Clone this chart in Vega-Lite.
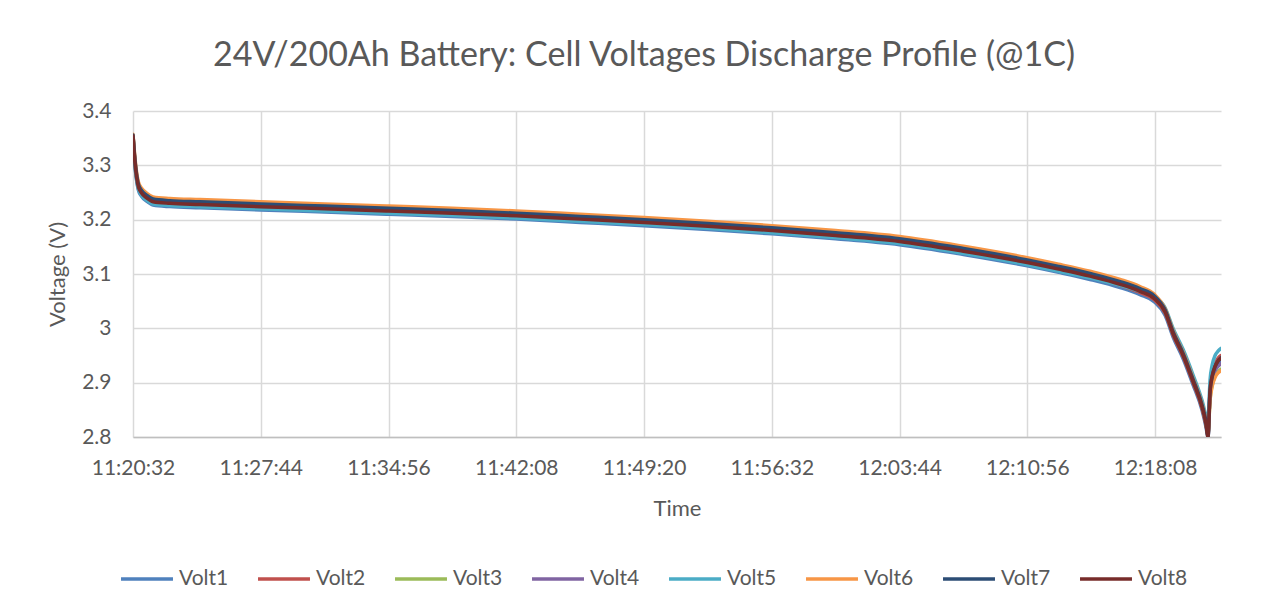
{
  "$schema": "https://vega.github.io/schema/vega-lite/v6.json",
  "width": 1088,
  "height": 326,
  "autosize": "none",
  "padding": {"left": 133, "top": 111, "right": 60, "bottom": 170},
  "background": "white",
  "title": {
    "text": "24V/200Ah Battery: Cell Voltages Discharge Profile (@1C)",
    "font": "Lato",
    "fontSize": 34,
    "fontWeight": "normal",
    "color": "#595959",
    "anchor": "middle",
    "dx": -33,
    "offset": 27
  },
  "data": {
    "values": [
      {"time": "2020-01-01T11:20:32", "Volt1": 3.350, "Volt2": 3.352, "Volt3": 3.355, "Volt4": 3.356, "Volt5": 3.351, "Volt6": 3.357, "Volt7": 3.356, "Volt8": 3.354},
      {"time": "2020-01-01T11:20:37", "Volt1": 3.309, "Volt2": 3.313, "Volt3": 3.317, "Volt4": 3.318, "Volt5": 3.311, "Volt6": 3.324, "Volt7": 3.320, "Volt8": 3.315},
      {"time": "2020-01-01T11:20:44", "Volt1": 3.273, "Volt2": 3.277, "Volt3": 3.281, "Volt4": 3.282, "Volt5": 3.275, "Volt6": 3.288, "Volt7": 3.284, "Volt8": 3.279},
      {"time": "2020-01-01T11:20:50", "Volt1": 3.255, "Volt2": 3.259, "Volt3": 3.263, "Volt4": 3.264, "Volt5": 3.257, "Volt6": 3.270, "Volt7": 3.266, "Volt8": 3.261},
      {"time": "2020-01-01T11:21:01", "Volt1": 3.243, "Volt2": 3.247, "Volt3": 3.251, "Volt4": 3.252, "Volt5": 3.245, "Volt6": 3.258, "Volt7": 3.254, "Volt8": 3.249},
      {"time": "2020-01-01T11:21:18", "Volt1": 3.234, "Volt2": 3.238, "Volt3": 3.242, "Volt4": 3.243, "Volt5": 3.236, "Volt6": 3.249, "Volt7": 3.245, "Volt8": 3.240},
      {"time": "2020-01-01T11:21:40", "Volt1": 3.227, "Volt2": 3.231, "Volt3": 3.235, "Volt4": 3.236, "Volt5": 3.229, "Volt6": 3.242, "Volt7": 3.238, "Volt8": 3.233},
      {"time": "2020-01-01T11:22:37", "Volt1": 3.224, "Volt2": 3.228, "Volt3": 3.232, "Volt4": 3.233, "Volt5": 3.226, "Volt6": 3.239, "Volt7": 3.235, "Volt8": 3.230},
      {"time": "2020-01-01T11:24:19", "Volt1": 3.222, "Volt2": 3.226, "Volt3": 3.230, "Volt4": 3.231, "Volt5": 3.224, "Volt6": 3.237, "Volt7": 3.233, "Volt8": 3.228},
      {"time": "2020-01-01T11:27:44", "Volt1": 3.218, "Volt2": 3.222, "Volt3": 3.226, "Volt4": 3.227, "Volt5": 3.220, "Volt6": 3.233, "Volt7": 3.229, "Volt8": 3.224},
      {"time": "2020-01-01T11:31:20", "Volt1": 3.214, "Volt2": 3.218, "Volt3": 3.222, "Volt4": 3.223, "Volt5": 3.216, "Volt6": 3.229, "Volt7": 3.225, "Volt8": 3.220},
      {"time": "2020-01-01T11:34:56", "Volt1": 3.210, "Volt2": 3.214, "Volt3": 3.218, "Volt4": 3.219, "Volt5": 3.212, "Volt6": 3.225, "Volt7": 3.221, "Volt8": 3.216},
      {"time": "2020-01-01T11:38:32", "Volt1": 3.206, "Volt2": 3.210, "Volt3": 3.214, "Volt4": 3.215, "Volt5": 3.208, "Volt6": 3.221, "Volt7": 3.217, "Volt8": 3.212},
      {"time": "2020-01-01T11:42:08", "Volt1": 3.201, "Volt2": 3.205, "Volt3": 3.209, "Volt4": 3.210, "Volt5": 3.203, "Volt6": 3.216, "Volt7": 3.212, "Volt8": 3.207},
      {"time": "2020-01-01T11:45:44", "Volt1": 3.195, "Volt2": 3.199, "Volt3": 3.203, "Volt4": 3.204, "Volt5": 3.197, "Volt6": 3.210, "Volt7": 3.206, "Volt8": 3.201},
      {"time": "2020-01-01T11:49:20", "Volt1": 3.189, "Volt2": 3.193, "Volt3": 3.197, "Volt4": 3.198, "Volt5": 3.191, "Volt6": 3.204, "Volt7": 3.200, "Volt8": 3.195},
      {"time": "2020-01-01T11:52:56", "Volt1": 3.182, "Volt2": 3.186, "Volt3": 3.190, "Volt4": 3.191, "Volt5": 3.184, "Volt6": 3.197, "Volt7": 3.193, "Volt8": 3.188},
      {"time": "2020-01-01T11:56:32", "Volt1": 3.174, "Volt2": 3.178, "Volt3": 3.182, "Volt4": 3.183, "Volt5": 3.176, "Volt6": 3.189, "Volt7": 3.185, "Volt8": 3.180},
      {"time": "2020-01-01T12:00:08", "Volt1": 3.165, "Volt2": 3.169, "Volt3": 3.173, "Volt4": 3.174, "Volt5": 3.167, "Volt6": 3.180, "Volt7": 3.176, "Volt8": 3.171},
      {"time": "2020-01-01T12:03:44", "Volt1": 3.154, "Volt2": 3.158, "Volt3": 3.162, "Volt4": 3.163, "Volt5": 3.156, "Volt6": 3.169, "Volt7": 3.165, "Volt8": 3.160},
      {"time": "2020-01-01T12:07:20", "Volt1": 3.136, "Volt2": 3.140, "Volt3": 3.144, "Volt4": 3.145, "Volt5": 3.138, "Volt6": 3.151, "Volt7": 3.147, "Volt8": 3.142},
      {"time": "2020-01-01T12:10:56", "Volt1": 3.115, "Volt2": 3.119, "Volt3": 3.123, "Volt4": 3.124, "Volt5": 3.117, "Volt6": 3.130, "Volt7": 3.126, "Volt8": 3.121},
      {"time": "2020-01-01T12:12:42", "Volt1": 3.103, "Volt2": 3.107, "Volt3": 3.111, "Volt4": 3.112, "Volt5": 3.105, "Volt6": 3.118, "Volt7": 3.114, "Volt8": 3.109},
      {"time": "2020-01-01T12:14:28", "Volt1": 3.090, "Volt2": 3.094, "Volt3": 3.098, "Volt4": 3.099, "Volt5": 3.093, "Volt6": 3.105, "Volt7": 3.101, "Volt8": 3.096},
      {"time": "2020-01-01T12:16:10", "Volt1": 3.075, "Volt2": 3.079, "Volt3": 3.083, "Volt4": 3.084, "Volt5": 3.079, "Volt6": 3.090, "Volt7": 3.086, "Volt8": 3.081},
      {"time": "2020-01-01T12:17:17", "Volt1": 3.062, "Volt2": 3.066, "Volt3": 3.070, "Volt4": 3.071, "Volt5": 3.068, "Volt6": 3.077, "Volt7": 3.073, "Volt8": 3.068},
      {"time": "2020-01-01T12:18:05", "Volt1": 3.049, "Volt2": 3.053, "Volt3": 3.057, "Volt4": 3.058, "Volt5": 3.059, "Volt6": 3.063, "Volt7": 3.060, "Volt8": 3.055},
      {"time": "2020-01-01T12:18:42", "Volt1": 3.024, "Volt2": 3.028, "Volt3": 3.032, "Volt4": 3.034, "Volt5": 3.038, "Volt6": 3.036, "Volt7": 3.034, "Volt8": 3.030},
      {"time": "2020-01-01T12:19:09", "Volt1": 2.984, "Volt2": 2.988, "Volt3": 2.992, "Volt4": 2.994, "Volt5": 3.000, "Volt6": 2.996, "Volt7": 2.994, "Volt8": 2.990},
      {"time": "2020-01-01T12:19:43", "Volt1": 2.944, "Volt2": 2.948, "Volt3": 2.952, "Volt4": 2.954, "Volt5": 2.961, "Volt6": 2.956, "Volt7": 2.954, "Volt8": 2.950},
      {"time": "2020-01-01T12:20:16", "Volt1": 2.897, "Volt2": 2.901, "Volt3": 2.905, "Volt4": 2.907, "Volt5": 2.915, "Volt6": 2.909, "Volt7": 2.907, "Volt8": 2.903},
      {"time": "2020-01-01T12:20:47", "Volt1": 2.849, "Volt2": 2.853, "Volt3": 2.857, "Volt4": 2.859, "Volt5": 2.867, "Volt6": 2.861, "Volt7": 2.859, "Volt8": 2.855},
      {"time": "2020-01-01T12:21:00", "Volt1": 2.819, "Volt2": 2.823, "Volt3": 2.827, "Volt4": 2.829, "Volt5": 2.840, "Volt6": 2.831, "Volt7": 2.829, "Volt8": 2.825},
      {"time": "2020-01-01T12:21:07", "Volt1": 2.800, "Volt2": 2.805, "Volt3": 2.805, "Volt4": 2.810, "Volt5": 2.830, "Volt6": 2.808, "Volt7": 2.802, "Volt8": 2.800},
      {"time": "2020-01-01T12:21:14", "Volt1": 2.880, "Volt2": 2.890, "Volt3": 2.870, "Volt4": 2.880, "Volt5": 2.905, "Volt6": 2.868, "Volt7": 2.885, "Volt8": 2.885},
      {"time": "2020-01-01T12:21:21", "Volt1": 2.905, "Volt2": 2.915, "Volt3": 2.895, "Volt4": 2.905, "Volt5": 2.932, "Volt6": 2.893, "Volt7": 2.910, "Volt8": 2.912},
      {"time": "2020-01-01T12:21:31", "Volt1": 2.925, "Volt2": 2.935, "Volt3": 2.912, "Volt4": 2.922, "Volt5": 2.950, "Volt6": 2.910, "Volt7": 2.930, "Volt8": 2.930},
      {"time": "2020-01-01T12:21:41", "Volt1": 2.935, "Volt2": 2.945, "Volt3": 2.920, "Volt4": 2.930, "Volt5": 2.958, "Volt6": 2.918, "Volt7": 2.940, "Volt8": 2.940},
      {"time": "2020-01-01T12:21:51", "Volt1": 2.940, "Volt2": 2.950, "Volt3": 2.925, "Volt4": 2.935, "Volt5": 2.963, "Volt6": 2.922, "Volt7": 2.946, "Volt8": 2.945}
    ]
  },
  "transform": [
    {"fold": ["Volt1", "Volt2", "Volt3", "Volt4", "Volt5", "Volt6", "Volt7", "Volt8"], "as": ["series", "voltage"]}
  ],
  "mark": {"type": "line", "strokeWidth": 3.5, "clip": true, "strokeJoin": "round", "strokeCap": "round", "interpolate": "monotone"},
  "encoding": {
    "x": {
      "field": "time",
      "type": "temporal",
      "scale": {
        "domain": [
          {"year": 2020, "month": 1, "date": 1, "hours": 11, "minutes": 20, "seconds": 32},
          {"year": 2020, "month": 1, "date": 1, "hours": 12, "minutes": 21, "seconds": 51}
        ]
      },
      "axis": {
        "values": [
          {"year": 2020, "month": 1, "date": 1, "hours": 11, "minutes": 20, "seconds": 32},
          {"year": 2020, "month": 1, "date": 1, "hours": 11, "minutes": 27, "seconds": 44},
          {"year": 2020, "month": 1, "date": 1, "hours": 11, "minutes": 34, "seconds": 56},
          {"year": 2020, "month": 1, "date": 1, "hours": 11, "minutes": 42, "seconds": 8},
          {"year": 2020, "month": 1, "date": 1, "hours": 11, "minutes": 49, "seconds": 20},
          {"year": 2020, "month": 1, "date": 1, "hours": 11, "minutes": 56, "seconds": 32},
          {"year": 2020, "month": 1, "date": 1, "hours": 12, "minutes": 3, "seconds": 44},
          {"year": 2020, "month": 1, "date": 1, "hours": 12, "minutes": 10, "seconds": 56},
          {"year": 2020, "month": 1, "date": 1, "hours": 12, "minutes": 18, "seconds": 8}
        ],
        "format": "%H:%M:%S",
        "title": "Time",
        "ticks": false,
        "labelFlush": false,
        "labelOverlap": false,
        "labelFont": "Lato",
        "labelFontSize": 21,
        "labelColor": "#595959",
        "labelPadding": 20,
        "domainColor": "#BFBFBF",
        "domainWidth": 1.5,
        "gridColor": "#D9D9D9",
        "gridWidth": 1.5,
        "titleFont": "Lato",
        "titleFontSize": 22,
        "titleFontWeight": "normal",
        "titleColor": "#595959",
        "titlePadding": 20
      }
    },
    "y": {
      "field": "voltage",
      "type": "quantitative",
      "scale": {"domain": [2.8, 3.4], "zero": false, "nice": false},
      "axis": {
        "values": [2.8, 2.9, 3.0, 3.1, 3.2, 3.3, 3.4],
        "format": "~g",
        "title": "Voltage (V)",
        "ticks": false,
        "domain": false,
        "labelFont": "Lato",
        "labelFontSize": 21,
        "labelColor": "#595959",
        "labelPadding": 22,
        "gridColor": "#D9D9D9",
        "gridWidth": 1.5,
        "titleFont": "Lato",
        "titleFontSize": 22,
        "titleFontWeight": "normal",
        "titleColor": "#595959",
        "titlePadding": 12
      }
    },
    "color": {
      "field": "series",
      "type": "nominal",
      "scale": {
        "domain": ["Volt1", "Volt2", "Volt3", "Volt4", "Volt5", "Volt6", "Volt7", "Volt8"],
        "range": ["#4F81BD", "#C0504D", "#9BBB59", "#8064A2", "#4BACC6", "#F79646", "#2C4D75", "#772C2A"]
      },
      "legend": {
        "title": null,
        "orient": "none",
        "legendX": -14,
        "legendY": 440,
        "direction": "horizontal",
        "columns": 8,
        "symbolType": "stroke",
        "symbolSize": 2700,
        "symbolStrokeWidth": 3.5,
        "labelFont": "Lato",
        "labelFontSize": 21,
        "labelColor": "#595959",
        "labelOffset": 4,
        "columnPadding": 22
      }
    }
  },
  "config": {"view": {"stroke": null}}
}
